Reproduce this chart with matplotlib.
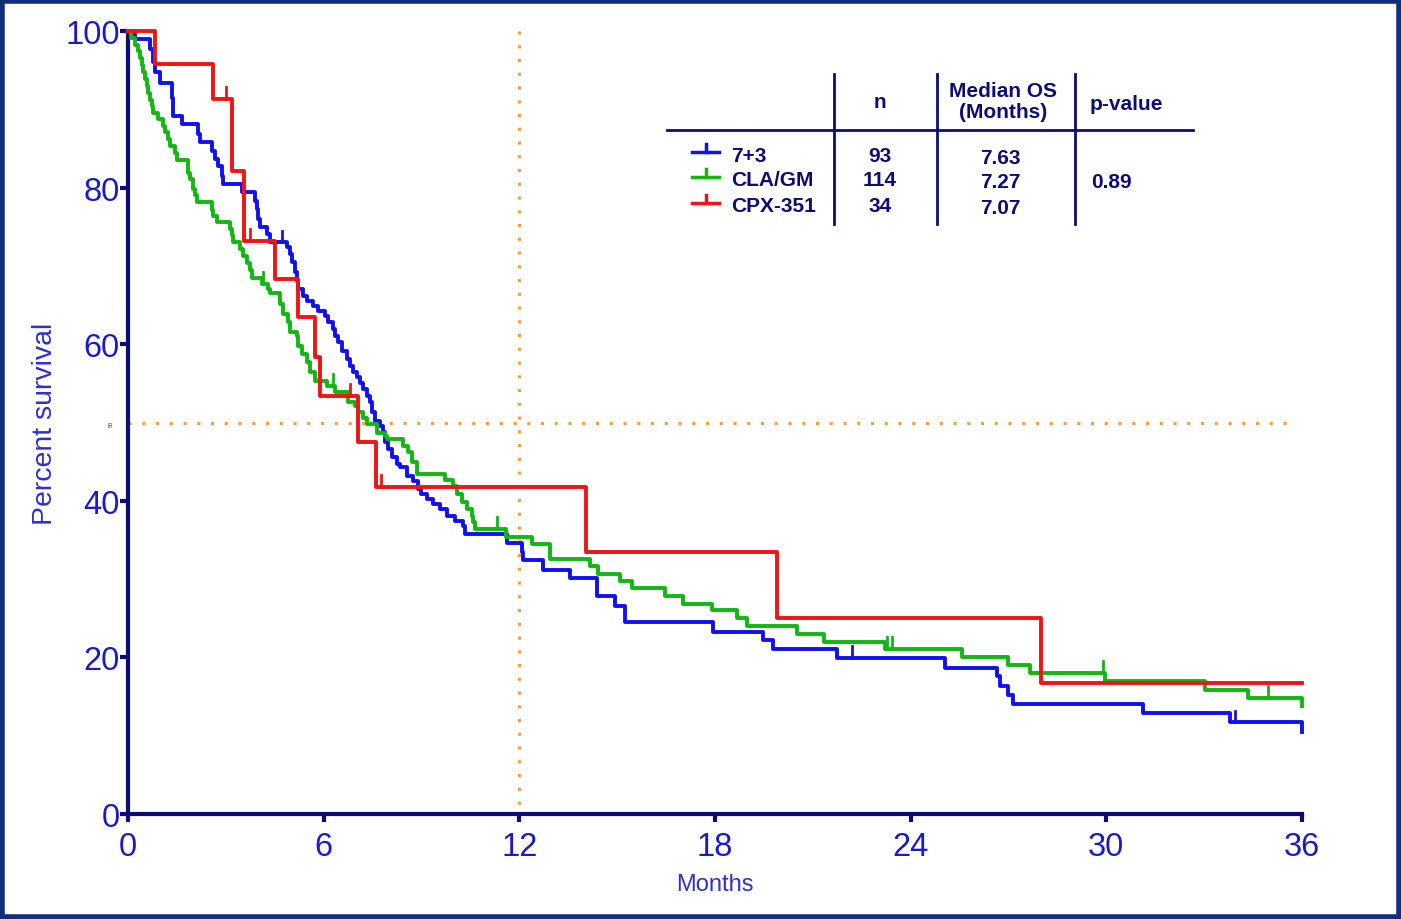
import matplotlib.pyplot as plt
import numpy as np
from matplotlib.patches import Rectangle

plt.rcParams["font.family"] = ["Liberation Sans", "DejaVu Sans"]

# step data: time of each drop (months) and survival (%) after the drop
blue_t = [0.2, 0.67, 0.78, 0.83, 0.98, 1.34, 1.39, 1.65, 2.16, 2.21, 2.57, 2.67, 2.77,
          2.87, 2.92, 3.49, 3.89, 3.95, 4.0, 4.05, 4.25, 4.35, 4.87, 4.97, 5.02, 5.12,
          5.17, 5.22, 5.38, 5.48, 5.68, 5.84, 6.04, 6.14, 6.3, 6.35, 6.45, 6.55, 6.71,
          6.81, 6.91, 7.01, 7.11, 7.22, 7.32, 7.42, 7.47, 7.57, 7.73, 7.83, 7.88, 7.98,
          8.09, 8.24, 8.34, 8.55, 8.75, 8.9, 9.0, 9.16, 9.36, 9.57, 9.77, 10.03, 10.28,
          10.33, 11.61, 12.07, 12.12, 12.74, 13.55, 14.37, 14.93, 15.24, 17.95, 19.48,
          19.79, 21.73, 25.05, 26.64, 26.74, 27.0, 27.15, 31.13, 33.8, 36.0]
blue_s = [99.0, 97.7, 96.0, 94.7, 93.4, 91.5, 89.2, 88.1, 86.8, 85.8, 84.7, 83.7, 82.8,
          81.5, 80.5, 79.4, 78.3, 77.3, 76.0, 75.0, 74.1, 73.0, 72.4, 71.5, 70.5, 69.2,
          68.1, 67.0, 66.2, 65.5, 64.9, 64.3, 63.6, 62.8, 61.9, 61.0, 60.3, 59.1, 58.1,
          57.2, 56.4, 55.8, 55.1, 54.3, 53.4, 52.6, 51.3, 50.2, 49.6, 48.8, 47.5, 46.6,
          45.6, 44.7, 44.3, 43.2, 42.5, 41.5, 40.9, 40.2, 39.6, 39.0, 38.1, 37.4, 36.8,
          35.8, 34.6, 33.5, 32.4, 31.2, 30.1, 27.9, 26.6, 24.5, 23.3, 22.2,
          21.1, 19.9, 18.7, 17.6, 16.4, 15.2, 14.0, 12.9, 11.7, 10.5]
blue_cens = [4.71, 22.19, 33.95]

green_t = [0.1, 0.21, 0.32, 0.37, 0.42, 0.47, 0.52, 0.57, 0.62, 0.67, 0.73, 0.78, 0.93,
           1.08, 1.13, 1.24, 1.29, 1.44, 1.49, 1.85, 1.9, 2.0, 2.05, 2.11, 2.57, 2.62,
           2.72, 3.13, 3.18, 3.23, 3.43, 3.54, 3.64, 3.74, 3.79, 4.1, 4.3, 4.35, 4.66,
           4.76, 4.92, 4.97, 5.17, 5.22, 5.33, 5.48, 5.58, 5.73, 6.09, 6.35, 6.76, 6.96,
           7.06, 7.22, 7.32, 7.63, 7.88, 7.93, 8.44, 8.6, 8.7, 8.85, 9.72, 9.98, 10.08,
           10.23, 10.39, 10.54, 10.59, 10.64, 11.58, 12.38, 12.94, 14.17, 14.42, 15.09,
           15.45, 16.47, 17.03, 17.9, 18.67, 18.97, 20.5, 21.35, 23.21, 25.57, 27.0,
           27.66, 29.96, 33.03, 34.35, 36.0]
green_s = [99.1, 98.2, 97.4, 96.5, 95.6, 94.7, 93.9, 93.0, 92.1, 91.2, 90.4, 89.5, 88.8,
           87.9, 87.1, 86.2, 85.3, 84.4, 83.5, 81.9, 81.1, 79.8, 79.0, 78.1, 77.2, 76.4,
           75.6, 74.7, 73.9, 73.0, 72.1, 71.3, 70.4, 69.5, 68.5, 67.7, 67.1, 66.6, 65.1,
           63.9, 62.8, 61.5, 61.1, 59.8, 58.7, 57.7, 56.4, 55.3, 54.7, 53.9, 52.6, 52.1,
           51.3, 50.6, 49.8, 48.7, 48.3, 47.9, 47.0, 46.2, 44.9, 43.4, 42.6, 41.9, 40.9,
           39.9, 39.0, 38.1, 37.3, 36.4, 35.4, 34.5, 32.6, 31.7, 30.7, 29.8,
           28.8, 27.9, 26.8, 26.0, 25.0, 24.0, 23.0, 22.0, 21.1, 20.0, 19.0,
           18.0, 17.0, 15.9, 14.8, 13.8]
green_cens = [4.15, 6.3, 11.3, 23.27, 23.42, 29.9, 34.97]

red_t = [0.83, 2.6, 3.2, 3.55, 4.5, 5.2, 5.73, 5.9, 7.05, 7.6, 14.05, 19.9, 28.0]
red_s = [95.8, 91.3, 82.1, 73.2, 68.3, 63.5, 58.4, 53.4, 47.5, 41.8, 33.4, 25.0, 16.7]
red_cens = [3.0, 3.74, 6.8, 7.75]

series = [
    ("7+3", blue_t, blue_s, blue_cens, "#1010f0", 93, "7.63"),
    ("CLA/GM", green_t, green_s, green_cens, "#10b810", 114, "7.27"),
    ("CPX-351", red_t, red_s, red_cens, "#f01414", 34, "7.07"),
]

navy = "#0c0c78"
tick_blue = "#1a1ac8"
label_blue = "#2f2fd2"
orange = "#ff9a3c"

fig = plt.figure(figsize=(14.01, 9.2), dpi=100)
ax = fig.add_axes([128 / 1401, 1 - 815 / 920, (1302 - 128) / 1401, (815 - 32) / 920])

ax.axhline(50, xmin=0, xmax=35.8 / 36, color=orange, ls=(0, (1, 3.5)), lw=2.2, zorder=1)
ax.plot([12, 12], [100, 0], color=orange, ls=(0, (1, 3.5)), lw=2.2, zorder=1)

for name, t, s, cens, col, n, med in series:
    t = np.asarray(t)
    s = np.asarray(s)
    x = np.concatenate([[0], t])
    y = np.concatenate([[100], s])
    if x[-1] < 36:
        x = np.append(x, 36)
        y = np.append(y, y[-1])
    ax.step(x, y, where="post", color=col, lw=2.8, clip_on=False, zorder=3)
    for c in cens:
        yc = y[np.searchsorted(x, c, side="right") - 1]
        ax.plot([c, c], [yc, yc + 1.5], color=col, lw=2.0, clip_on=False, zorder=3)

ax.set_xlim(0, 36)
ax.set_ylim(0, 100)
ax.set_xticks(np.arange(0, 37, 6))
ax.set_yticks(np.arange(0, 101, 20))
for side in ["top", "right"]:
    ax.spines[side].set_visible(False)
for side in ["left", "bottom"]:
    ax.spines[side].set_color(navy)
    ax.spines[side].set_linewidth(3)
ax.tick_params(colors=navy, labelcolor=tick_blue, labelsize=23.5, width=3, length=6)
ax.tick_params(axis="y", pad=0)
ax.tick_params(axis="x", pad=6)
ax.set_xlabel("Months", color=label_blue, fontsize=17, labelpad=8)
ax.set_ylabel("Percent survival", color=label_blue, fontsize=20.5, labelpad=5)
ax.text(-0.5, 50, "50", rotation=90, fontsize=4, color=tick_blue, ha="center", va="center")

# table in pixel coordinates
ov = fig.add_axes([0, 0, 1, 1])
ov.set_xlim(0, 1401)
ov.set_ylim(920, 0)
ov.axis("off")
ov.add_patch(Rectangle((2, 2), 1397, 916, fill=False, edgecolor="#12307a", lw=4))

ov.plot([667, 1193], [131, 131], color=navy, lw=2)
for xv in [834, 937, 1075]:
    ov.plot([xv, xv], [75, 225], color=navy, lw=2)
tkw = dict(color=navy, fontsize=15, fontweight="bold", va="center")
ov.text(880, 103, "n", ha="center", **tkw)
ov.text(1003, 102, "Median OS\n(Months)", ha="center", linespacing=1.15, **tkw)
ov.text(1126, 104, "p-value", ha="center", **tkw)
ov.text(1111, 182, "0.89", ha="center", **tkw)
rows_y = [156, 181, 207]
for (name, t, s, cens, col, n, med), ry in zip(series, rows_y):
    ov.plot([692, 719], [ry - 3, ry - 3], color=col, lw=2.5)
    ov.plot([705.5, 705.5], [ry - 3, ry - 11], color=col, lw=2.5)
    ov.text(731, ry, name, ha="left", **tkw)
    ov.text(880, ry, str(n), ha="center", **tkw)
    ov.text(1000, ry + 2, med, ha="center", **tkw)

fig.savefig("out.png", dpi=100)
